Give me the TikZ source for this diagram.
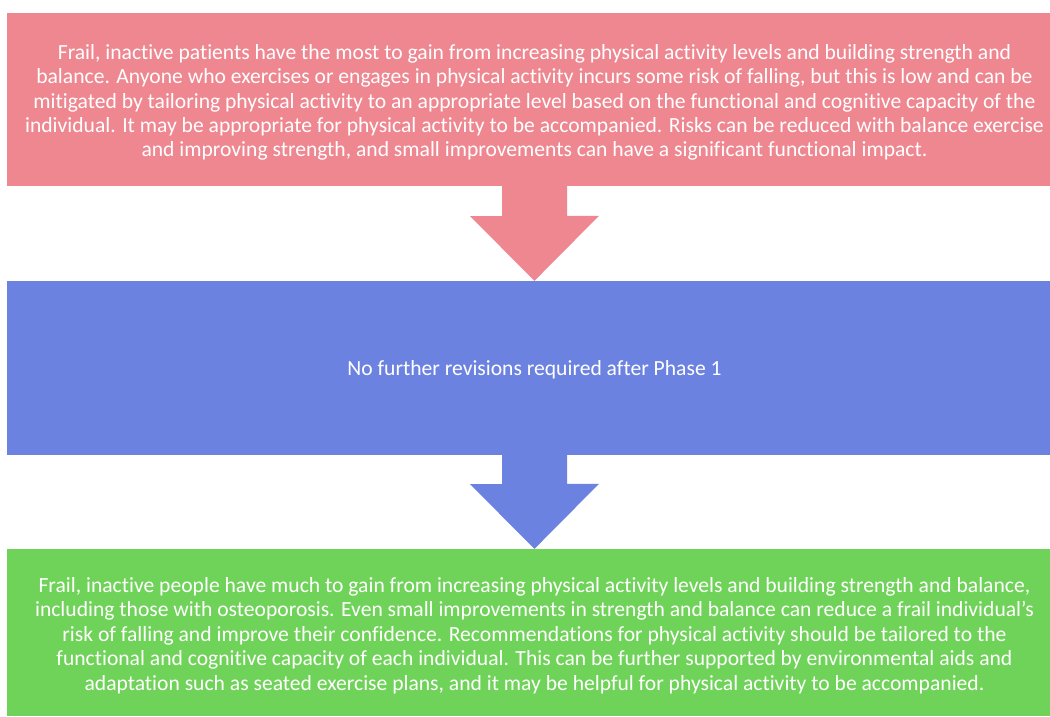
\documentclass[tikz,border=0pt]{standalone}
\usepackage{fontspec}
\setmainfont[Ligatures=NoCommon]{Carlito}
\usepackage{tikz}
\definecolor{pinkbox}{RGB}{239,135,145}
\definecolor{bluebox}{RGB}{108,130,225}
\definecolor{greenbox}{RGB}{112,211,89}

\begin{document}
\begin{tikzpicture}[x=1pt, y=-1pt,
  stage/.style={rectangle, inner sep=0pt, minimum width=1043pt},
  stagetext/.style={inner sep=0pt, align=center, text=white,
    font=\fontsize{21.6}{24.4}\selectfont}]
  \useasboundingbox[fill=white] (0,0) rectangle (1050,716);
  \node (frail) at (528.5,99.5) [stage, fill=pinkbox, minimum height=173pt] {};
  \node (phase) at (528.5,368) [stage, fill=bluebox, minimum height=174pt] {};
  \node (final) at (528.5,632.5) [stage, fill=greenbox, minimum height=167pt] {};
  \node (frailtext) at ([xshift=6pt,yshift=-3pt]frail.center) [stagetext] {Frail, inactive patients have the most to gain from increasing physical activity levels and building strength and\\ balance. Anyone who exercises or engages in physical activity incurs some risk of falling, but this is low and can be\\ mitigated by tailoring physical activity to an appropriate level based on the functional and cognitive capacity of the\\ individual. It may be appropriate for physical activity to be accompanied. Risks can be reduced with balance exercise\\ and improving strength, and small improvements can have a significant functional impact.};
  \node (phasetext) at ([xshift=6pt,yshift=-2pt]phase.center) [stagetext] {No further revisions required after Phase 1};
  \node (finaltext) at ([xshift=6pt,yshift=-3pt]final.center) [stagetext] {Frail, inactive people have much to gain from increasing physical activity levels and building strength and balance,\\ including those with osteoporosis. Even small improvements in strength and balance can reduce a frail individual’s\\ risk of falling and improve their confidence. Recommendations for physical activity should be tailored to the\\ functional and cognitive capacity of each individual. This can be further supported by environmental aids and\\ adaptation such as seated exercise plans, and it may be helpful for physical activity to be accompanied.};
  % block arrows between the stages
  \fill[pinkbox] ([xshift=-26.5pt]frail.south) -- ++(0,30) -- ++(-32,0) -- ([xshift=6pt]phase.north) -- ++(64.5,-65) -- ++(-32,0) -- ++(0,-30) -- cycle;
  \fill[bluebox] ([xshift=-26.5pt]phase.south) -- ++(0,29) -- ++(-32,0) -- ([xshift=6pt]final.north) -- ++(64.5,-65) -- ++(-32,0) -- ++(0,-29) -- cycle;
\end{tikzpicture}
\end{document}
